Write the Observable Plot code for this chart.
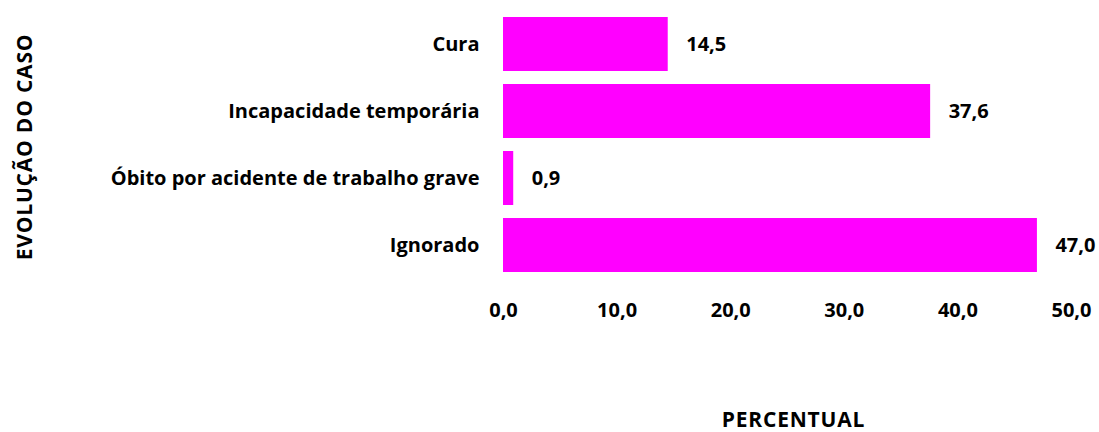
<!DOCTYPE html>
<html>
<head>
<meta charset="utf-8">
<script src="https://cdn.jsdelivr.net/npm/d3@7"></script>
<script src="https://cdn.jsdelivr.net/npm/@observablehq/plot@0.6"></script>
<style>
  body { margin: 0; background: #fff; }
  svg { font-family: "Open Sans", "Noto Sans", sans-serif; font-weight: 700; }
  .caps-label text { letter-spacing: 0.8px; }
</style>
</head>
<body>
<div id="chart"></div>
<script>
const categories = ["Cura", "Incapacidade temporária", "Óbito por acidente de trabalho grave", "Ignorado"];
const values = [14.5, 37.6, 0.9, 47.0];
const xTicks = [0, 10, 20, 30, 40, 50];

const data = categories.map((c, i) => ({category: c, value: values[i]}));
const fmt = v => v.toFixed(1).replace(".", ",");
const FS = 20;

const chart = Plot.plot({
  width: 1099,
  height: 432,
  marginLeft: 503,
  marginRight: 28,
  marginTop: 10,
  marginBottom: 153,
  style: {fontSize: FS + "px", fontFamily: "'Open Sans', 'Noto Sans', sans-serif", fontWeight: 700, color: "#000", background: "#fff"},
  x: {domain: [0, 50]},
  y: {domain: categories, paddingInner: 0.2, paddingOuter: 0.1},
  marks: [
    Plot.barX(data, {x: "value", y: "category", fill: "#FF00FF"}),
    Plot.text(data, {x: "value", y: "category", text: d => fmt(d.value), textAnchor: "start", dx: 18, fontSize: FS, fontWeight: 700, fill: "#000"}),
    Plot.axisX({ticks: xTicks, tickFormat: fmt, tickSize: 0, tickPadding: 23, label: null, fontSize: FS}),
    Plot.axisY({tickSize: 0, tickPadding: 24, label: null, fontSize: FS}),
    Plot.text(["EVOLUÇÃO DO CASO"], {frameAnchor: "left", textAnchor: "middle", lineAnchor: "middle", rotate: -90, dx: -478, dy: 2, fontSize: 21, fontWeight: 700, fill: "#000", className: "caps-label"}),
    Plot.text(["PERCENTUAL"], {frameAnchor: "bottom", lineAnchor: "middle", dx: 6, dy: 141, fontSize: 21, fontWeight: 700, fill: "#000", className: "caps-label"})
  ]
});
document.getElementById("chart").appendChild(chart);
</script>
</body>
</html>
